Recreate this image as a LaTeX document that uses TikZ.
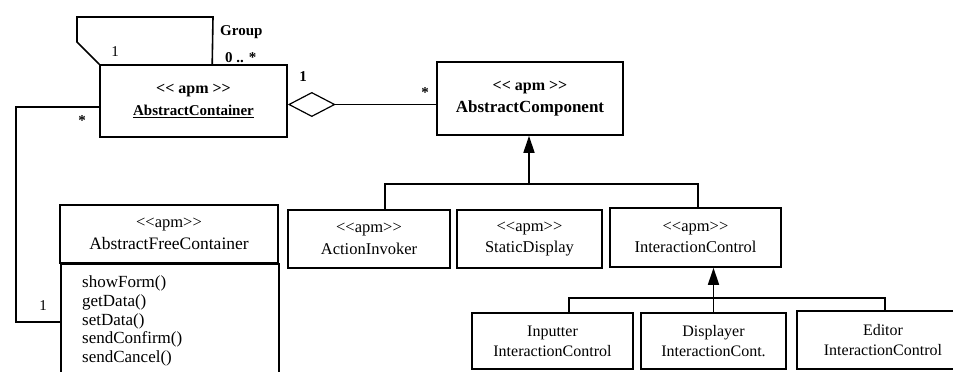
\documentclass[tikz,border=0pt]{standalone}
\usepackage{fontspec}
\setmainfont{Liberation Serif}
\usetikzlibrary{arrows.meta}
\begin{document}
\begin{tikzpicture}[x=1pt,y=-1pt,
  box/.style={draw, line width=1.6pt, inner sep=0pt, align=center,
    font=\fontsize{16.5}{21.5}\selectfont},
  topbox/.style={box, font=\fontsize{16}{22}\selectfont\bfseries},
  leafbox/.style={box, font=\fontsize{16}{20}\selectfont},
  link/.style={line width=1.6pt},
  inh/.style={link, -{Triangle[length=17pt,width=11pt]}},
  agg/.style={link, {Diamond[open,length=48pt,width=25pt,line width=1.2pt]}-},
  lbl/.style={inner sep=0pt, font=\fontsize{15}{15}\selectfont},
  blbl/.style={lbl, font=\fontsize{15}{15}\selectfont\bfseries},
]
\useasboundingbox (0,0) rectangle (953,372);
\clip (0,0) rectangle (953,372);

% top row
\node[topbox, minimum width=187pt, minimum height=72pt] (ac) at (193.5,101)
  {<{}< apm >{}>\\\underline{\fontsize{15}{22}\selectfont AbstractContainer}};
\node[topbox, minimum width=186pt, minimum height=73pt] (acomp) at (530,98.5)
  {<{}< apm >{}>\\{\fontsize{17}{22}\selectfont AbstractComponent}};

% free container class with its operations
\node[box, minimum width=218pt, minimum height=58pt] (afc) at (169,234)
  {<{}<apm>{}>\\{\fontsize{17.5}{22}\selectfont AbstractFreeContainer}};
\node[draw, line width=1.6pt, inner sep=0pt, anchor=north west,
  minimum width=218pt, minimum height=130pt] (afcops) at (60,263) {};
\node[anchor=north west, inner sep=0pt, align=left,
  font=\fontsize{17}{18.5}\selectfont] (ops) at (82,276)
  {showForm()\\getData()\\setData()\\sendConfirm()\\sendCancel()};

% second row
\node[box, minimum width=162pt, minimum height=58pt] (ai) at (369,239)
  {<{}<apm>{}>\\ActionInvoker};
\node[box, minimum width=145pt, minimum height=58pt] (sd) at (529.5,239)
  {<{}<apm>{}>\\StaticDisplay};
\node[box, minimum width=171pt, minimum height=59pt] (ic) at (695.5,237.5)
  {<{}<apm>{}>\\InteractionControl};

% third row
\node[leafbox, minimum width=161pt, minimum height=56pt] (inp) at (552.5,341)
  {Inputter\\InteractionControl};
\node[leafbox, minimum width=145pt, minimum height=56pt] (disp) at (713.5,341)
  {Displayer\\InteractionCont.};
\node[leafbox, minimum width=172pt, minimum height=58pt] (ed) at (883,340)
  {Editor\\InteractionControl};

% Group self association
\draw[link] (ac.north west) -- (77,42) -- (77,17) -- (213,17)
  -- ([xshift=113pt]ac.north west);
\node[blbl, anchor=west] (grp) at (220,32) {Group};
\node[lbl] (g1) at (115,52) {1};
\node[blbl, anchor=west] (gm) at (225,58) {0 .. *};

% aggregation container -> components
\draw[agg] ([yshift=-3.5pt]ac.east) -- ([yshift=-3.5pt]ac.east -| acomp.west);
\node[blbl] (a1) at (303,77) {1};
\node[blbl] (am) at (425,93) {*};

% container -> free container
\draw[link] ([yshift=-6pt]ac.west) -- ++(-83,0) |- ([yshift=-59pt]afcops.north west);
\node[blbl] (fm) at (82,121) {*};
\node[lbl] (f1) at (43,306) {1};

% generalisation of the components
\coordinate (b1) at (529,185);
\draw[inh] (b1) -- (b1 |- acomp.south);
\draw[link] ([xshift=16pt]ai.north) -- ++(0,-25) -| ([xshift=2.5pt]ic.north);

% generalisation of the interaction controls
\draw[inh] (disp.north) -- (disp.north |- ic.south);
\draw[link] ([xshift=16.5pt]inp.north) -- ++(0,-14) -| ([xshift=2pt]ed.north);
\end{tikzpicture}
\end{document}
